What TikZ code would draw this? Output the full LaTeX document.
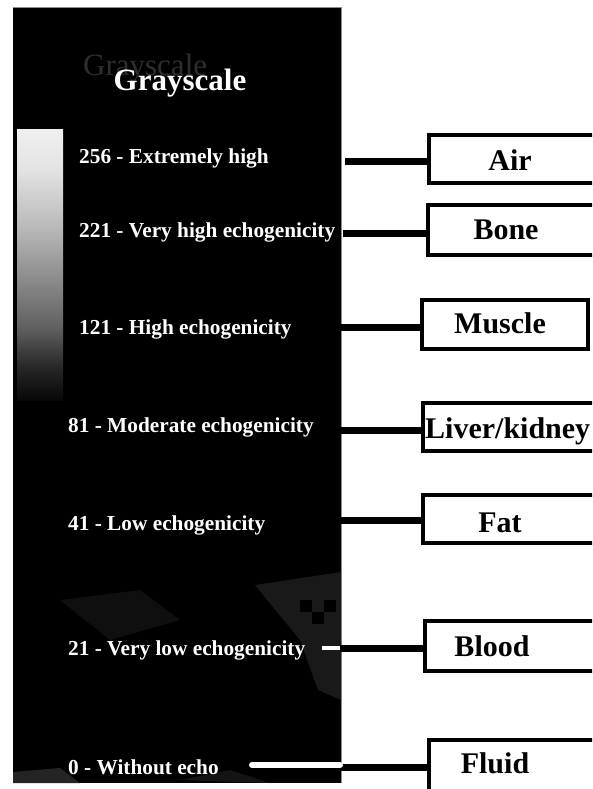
\documentclass[tikz,border=0pt]{standalone}
\usepackage{fontspec}
\setmainfont{Liberation Serif}
\pgfdeclareverticalshading{grayscalebar}{100bp}{%
 color(0bp)=(black);
 color(25bp)=(black!97!white);
 color(31bp)=(white!15!black);
 color(38.5bp)=(white!38!black);
 color(47.5bp)=(white!55!black);
 color(56.5bp)=(white!72!black);
 color(67.5bp)=(white!89!black);
 color(75bp)=(white!94!black);
 color(100bp)=(white!94!black)}
\begin{document}
\begin{tikzpicture}[x=1pt,y=-1pt,
  lab/.style={text=white, font=\bfseries\fontsize{21.3}{24}\selectfont, anchor=base west, inner sep=0pt},
  boxtxt/.style={text=black, font=\bfseries\fontsize{30}{34}\selectfont, anchor=base, inner sep=0pt},
  tissue/.style={draw=black, line width=4pt, fill=white, rectangle, outer sep=0pt, inner sep=0pt, anchor=north west},
  conn/.style={line width=7pt, black},
  wconn/.style={line width=6pt, white},
  faint/.style={fill=black!90!white}]
\useasboundingbox (0,0) rectangle (592,789);
\clip (0,0) rectangle (592,789);
\fill[white] (0,0) rectangle (592,789);
% black panel
\fill[black] (13,7) rectangle (341,783);
\draw[black!45!white, line width=0.8pt] (13,7) -- (341,7) -- (341,783);
% faint texture in lower part
\fill[faint] (255,585) -- (341,572) -- (341,700) -- (318,690) -- (300,640) -- cycle;
\fill[black] (300,600) rectangle (312,612);
\fill[black] (312,612) rectangle (324,624);
\fill[black] (324,600) rectangle (336,612);
\fill[black!94!white] (60,600) -- (140,590) -- (180,620) -- (110,640) -- cycle;
\fill[black!86!white] (13,772) -- (60,768) -- (80,783) -- (13,783) -- cycle;
\fill[black!92!white] (180,780) -- (230,770) -- (270,783) -- cycle;
% grayscale bar
\shade[shading=grayscalebar] (17,129) rectangle (63,400);
% titles
\node[text=black!82!white, font=\fontsize{31}{34}\selectfont, anchor=base west, inner sep=0pt] (ghost) at (83,76) {Grayscale};
\node[text=white, font=\bfseries\fontsize{31}{34}\selectfont, anchor=base, inner sep=0pt] (title) at (180,91) {Grayscale};
% level labels
\node[lab] (l256) at (79,163) {256 - Extremely high};
\node[lab] (l221) at (79,237) {221 - Very high echogenicity};
\node[lab] (l121) at (79,334) {121 - High echogenicity};
\node[lab] (l81) at (68,432) {81 - Moderate echogenicity};
\node[lab] (l41) at (68,530) {41 - Low echogenicity};
\node[lab] (l21) at (68,655) {21 - Very low echogenicity};
\node[lab] (l0) at (68,774) {0 - Without echo};
% tissue boxes
\node[tissue, minimum width=220pt, minimum height=48pt] (air) at (429,135) {};
\node[tissue, minimum width=220pt, minimum height=50pt] (bone) at (428,205) {};
\node[tissue, minimum width=166pt, minimum height=49pt] (muscle) at (422,300) {};
\node[tissue, minimum width=220pt, minimum height=48pt] (liver) at (423,403) {};
\node[tissue, minimum width=220pt, minimum height=48pt] (fat) at (423,495) {};
\node[tissue, minimum width=220pt, minimum height=50pt] (blood) at (425,621) {};
\node[tissue, minimum width=220pt, minimum height=70pt] (fluid) at (429,740) {};
% free ends of connectors
\coordinate (c256) at (345,161);
\coordinate (c221) at (343,233);
\coordinate (c121) at (340,327);
\coordinate (c81) at (340,430);
\coordinate (c41) at (340,520);
\coordinate (c21) at (340,648);
\coordinate (w21) at (322,648);
\coordinate (c0) at (340,767);
\coordinate (w0) at (252,765);
\coordinate (w0e) at (340,765);
% connectors
\draw[conn] (c256) -- (c256 -| air.west);
\draw[conn] (c221) -- (c221 -| bone.west);
\draw[conn] (c121) -- (c121 -| muscle.west);
\draw[conn] (c81) -- (c81 -| liver.west);
\draw[conn] (c41) -- (c41 -| fat.west);
\draw[conn] (c21) -- (c21 -| blood.west);
\draw[white, line width=4pt] (w21) -- (c21);
\draw[conn] (c0) -- (c0 -| fluid.west);
\draw[wconn, line cap=round] (w0) -- (w0e);
% box texts
\node[boxtxt] (tair) at (510,170) {Air};
\node[boxtxt] (tbone) at (506,239) {Bone};
\node[boxtxt] (tmuscle) at (500,333) {Muscle};
\node[boxtxt, anchor=base west] (tliver) at (425,438) {Liver/kidney};
\node[boxtxt] (tfat) at (500,532) {Fat};
\node[boxtxt] (tblood) at (492,656) {Blood};
\node[boxtxt] (tfluid) at (495,773) {Fluid};
\end{tikzpicture}
\end{document}
